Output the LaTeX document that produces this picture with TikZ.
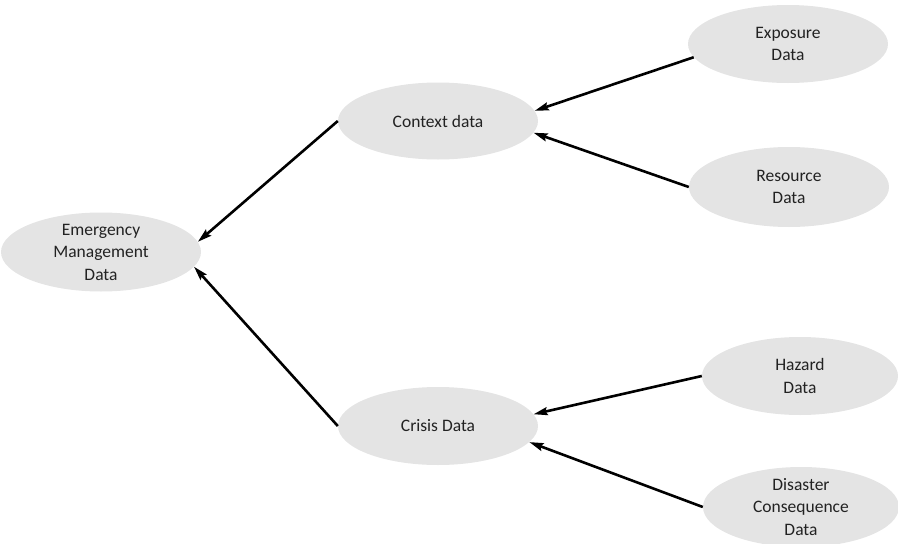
\documentclass[tikz,border=0pt]{standalone}
\usepackage{fontspec}
\setmainfont{Carlito}
\usetikzlibrary{shapes.geometric,arrows.meta}
\definecolor{bubblegray}{HTML}{E4E4E4}
\definecolor{inkgray}{HTML}{222222}
\begin{document}
\begin{tikzpicture}[x=1pt,y=-1pt,
  bubble/.style={ellipse, fill=bubblegray, draw=none, inner sep=0pt,
                 minimum width=200pt, minimum height=79pt},
  caption/.style={font=\fontsize{17.5}{22.5}\selectfont, text=inkgray, align=center},
  link/.style={line width=2.6pt, draw=black,
               -{Stealth[length=14pt,width=8pt,inset=2pt]}}]
\useasboundingbox (0,0) rectangle (898,544);
\clip (0,0) rectangle (898,544);

% data categories
\node[bubble, label={[caption]center:Emergency\\Management\\Data}] (emd) at (101,252) {};
\node[bubble, minimum height=77pt, label={[caption]center:Context data}] (ctx) at (438,121) {};
\node[bubble, minimum height=78pt, label={[caption]center:Crisis Data}] (cri) at (438,426) {};
\node[bubble, minimum height=78pt, label={[caption]center:Exposure\\Data}] (exp) at (788,44) {};
\node[bubble, minimum height=80pt, label={[caption]center:Resource\\Data}] (res) at (789,187) {};
\node[bubble, minimum width=196pt, minimum height=78pt, label={[caption]center:Hazard\\Data}] (haz) at (800,376) {};
\node[bubble, minimum width=196pt, minimum height=80pt, label={[caption]center:Disaster\\Consequence\\Data}] (dis) at (801,507) {};

% aggregation links
\draw[link] (ctx.west) -- (emd.6);
\draw[link] (cri.west) -- (emd.-9);
\draw[link] (exp.188) -- (ctx.6);
\draw[link] (res.west) -- (ctx.-7);
\draw[link] (haz.west) -- (cri.7);
\draw[link] (dis.west) -- (cri.-10);
\end{tikzpicture}
\end{document}
